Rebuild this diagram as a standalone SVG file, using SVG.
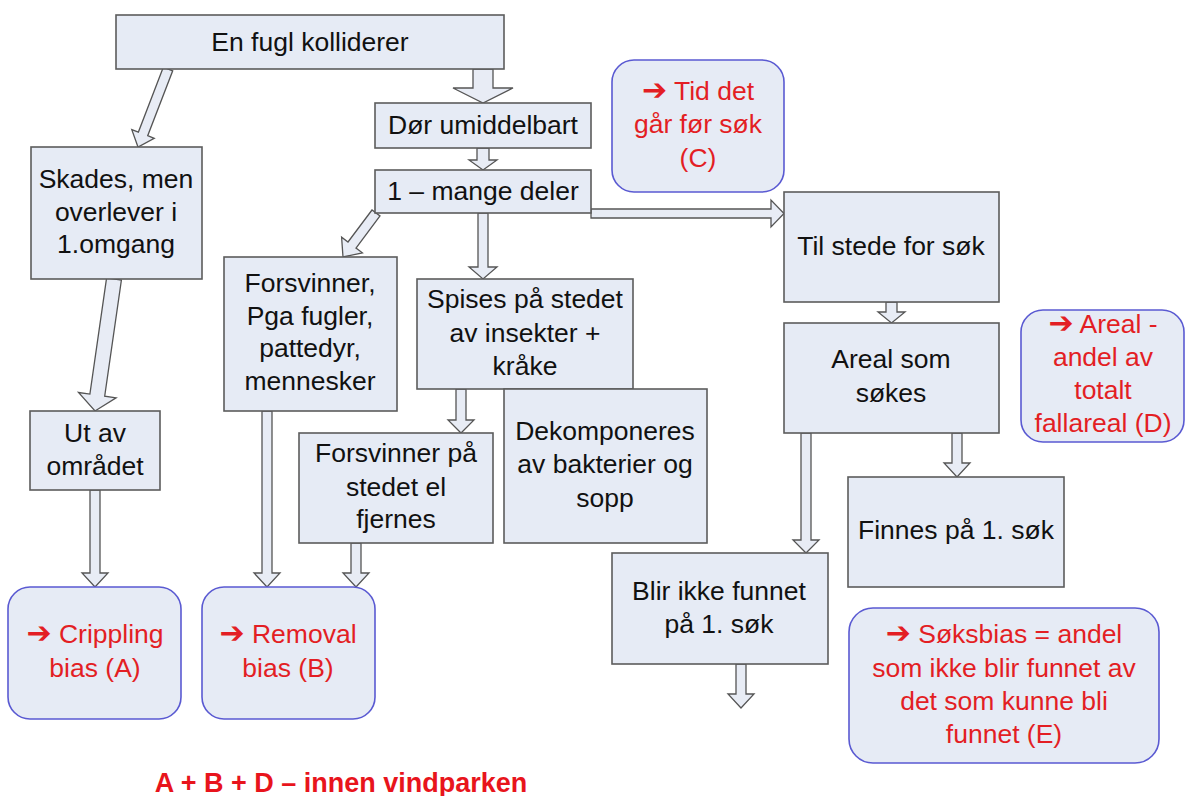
<svg xmlns="http://www.w3.org/2000/svg" width="1186" height="796" viewBox="0 0 1186 796">
<style>
.box{fill:#e6ebf5;stroke:#5c5c5c;stroke-width:1.6}
.bias{fill:#e6ebf5;stroke:#5a5ad2;stroke-width:1.6}
.arr{fill:#e8ecf5;stroke:#555;stroke-width:1.3;stroke-linejoin:miter}
.t{font-family:"Liberation Sans",Arial,"DejaVu Sans",sans-serif;font-size:26.5px;fill:#111;text-anchor:middle}
.r{font-family:"Liberation Sans",Arial,"DejaVu Sans",sans-serif;font-size:26.5px;fill:#e31e24;text-anchor:middle}
.ar{font-family:"DejaVu Sans",sans-serif;font-weight:bold;font-size:30px}
.b{font-family:"Liberation Sans",Arial,sans-serif;font-size:27px;font-weight:bold;fill:#e8141c;text-anchor:middle}
</style>
<rect width="1186" height="796" fill="#fff"/>
<g id="connectors">
<polygon class="arr" points="163.3,67.2 138.4,132.1 131.8,129.6 138,147 154.2,138.3 147.7,135.7 172.7,70.8"/>
<polygon class="arr" points="106.6,277.9 89.9,394.1 78.5,392.5 95,411 116.1,397.9 104.7,396.2 121.4,280.1"/>
<polygon class="arr" points="372,210 348,242 341.6,237.2 343,257 362.4,252.8 356,248 380,216"/>
<polygon class="arr" points="473,69 493,69 493,88 513,88 483,103 453,88 473,88"/>
<polygon class="arr" points="477,148 489,148 489,160 497,160 483,170 469,160 477,160"/>
<polygon class="arr" points="478,213 488,213 488,267 497,267 483,279 469,267 478,267"/>
<polygon class="arr" points="591,209 771,209 771,200 784,213.5 771,227 771,218 591,218"/>
<polygon class="arr" points="886,302 897,302 897,312 905,312 891.5,323 878,312 886,312"/>
<polygon class="arr" points="456,389 466,389 466,420 474,420 461,433 448,420 456,420"/>
<polygon class="arr" points="801,433 811,433 811,540 819,540 806,553 793,540 801,540"/>
<polygon class="arr" points="952,433 962,433 962,463 970,463 957,477 944,463 952,463"/>
<polygon class="arr" points="90,490 100,490 100,573 108,573 95,587 82,573 90,573"/>
<polygon class="arr" points="262,411 272,411 272,573 280,573 267,587 254,573 262,573"/>
<polygon class="arr" points="351,543 361,543 361,573 369,573 356,587 343,573 351,573"/>
<polygon class="arr" points="736,664 746,664 746,694 754,694 741,708 728,694 736,694"/>
</g>
<g id="n-kolliderer"><rect class="box" x="116" y="15" width="388" height="54"/><text class="t" x="310" y="51">En fugl kolliderer</text></g>
<g id="n-dor"><rect class="box" x="375" y="103" width="216" height="45"/><text class="t" x="483" y="134">Dør umiddelbart</text></g>
<g id="n-mange"><rect class="box" x="375" y="170" width="216" height="43"/><text class="t" x="483" y="200">1 – mange deler</text></g>
<g id="n-skades"><rect class="box" x="31" y="147" width="171" height="132"/><text class="t"><tspan x="116" y="188">Skades, men</tspan><tspan x="116" y="221">overlever i</tspan><tspan x="116" y="253">1.omgang</tspan></text></g>
<g id="n-utav"><rect class="box" x="30" y="411" width="130" height="79"/><text class="t"><tspan x="95" y="442">Ut av</tspan><tspan x="95" y="475">området</tspan></text></g>
<g id="n-forsvinner"><rect class="box" x="224" y="257" width="173" height="154"/><text class="t"><tspan x="310" y="292">Forsvinner,</tspan><tspan x="310" y="325">Pga fugler,</tspan><tspan x="310" y="357">pattedyr,</tspan><tspan x="310" y="390">mennesker</tspan></text></g>
<g id="n-spises"><rect class="box" x="417" y="279" width="216" height="110"/><text class="t"><tspan x="525" y="308">Spises på stedet</tspan><tspan x="525" y="342">av insekter +</tspan><tspan x="525" y="375">kråke</tspan></text></g>
<g id="n-dekomp"><rect class="box" x="504" y="389" width="203" height="154"/><text class="t"><tspan x="605" y="440">Dekomponeres</tspan><tspan x="605" y="473">av bakterier og</tspan><tspan x="605" y="507">sopp</tspan></text></g>
<g id="n-forsvpa"><rect class="box" x="299" y="433" width="194" height="110"/><text class="t"><tspan x="396" y="462">Forsvinner på</tspan><tspan x="396" y="496">stedet el</tspan><tspan x="396" y="528">fjernes</tspan></text></g>
<g id="n-tilstede"><rect class="box" x="784" y="192" width="215" height="110"/><text class="t" x="891" y="255">Til stede for søk</text></g>
<g id="n-areal"><rect class="box" x="784" y="323" width="215" height="110"/><text class="t"><tspan x="891" y="368">Areal som</tspan><tspan x="891" y="402">søkes</tspan></text></g>
<g id="n-finnes"><rect class="box" x="848" y="477" width="216" height="110"/><text class="t" x="956" y="539">Finnes på 1. søk</text></g>
<g id="n-blir"><rect class="box" x="612" y="553" width="216" height="111"/><text class="t"><tspan x="719" y="600">Blir ikke funnet</tspan><tspan x="719" y="633">på 1. søk</tspan></text></g>
<g id="n-c"><rect class="bias" x="612" y="60" width="172" height="132" rx="22"/><text class="r"><tspan x="698" y="100"><tspan class="ar">➔</tspan> Tid det</tspan><tspan x="698" y="133">går før søk</tspan><tspan x="698" y="167">(C)</tspan></text></g>
<g id="n-d"><rect class="bias" x="1021" y="310" width="163" height="132" rx="22"/><text class="r"><tspan x="1103" y="333"><tspan class="ar">➔</tspan> Areal -</tspan><tspan x="1103" y="366">andel av</tspan><tspan x="1103" y="399">totalt</tspan><tspan x="1103" y="432">fallareal (D)</tspan></text></g>
<g id="n-a"><rect class="bias" x="8" y="587" width="173" height="132" rx="22"/><text class="r"><tspan x="95" y="643"><tspan class="ar">➔</tspan> Crippling</tspan><tspan x="95" y="677">bias (A)</tspan></text></g>
<g id="n-b"><rect class="bias" x="202" y="587" width="173" height="132" rx="22"/><text class="r"><tspan x="288" y="643"><tspan class="ar">➔</tspan> Removal</tspan><tspan x="288" y="677">bias (B)</tspan></text></g>
<g id="n-e"><rect class="bias" x="849" y="608" width="310" height="155" rx="24"/><text class="r"><tspan x="1004" y="643"><tspan class="ar">➔</tspan> Søksbias = andel</tspan><tspan x="1004" y="677">som ikke blir funnet av</tspan><tspan x="1004" y="710">det som kunne bli</tspan><tspan x="1004" y="743">funnet (E)</tspan></text></g>
<g id="n-footer"><text class="b" x="341" y="792">A + B + D – innen vindparken</text></g>
</svg>
